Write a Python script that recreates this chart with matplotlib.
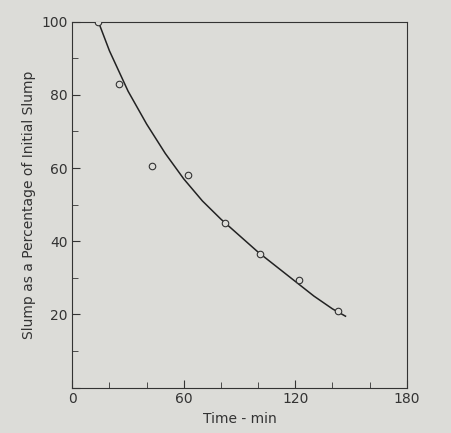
import matplotlib
matplotlib.use("Agg")
import matplotlib.pyplot as plt
import numpy as np

# measured points (time in min, slump as % of initial)
time_pts = [14, 25, 43, 62, 82, 101, 122, 143]
slump_pts = [100, 83, 60.5, 58, 45, 36.5, 29.5, 21]

# fitted curve
curve_t = [14, 20, 30, 40, 50, 60, 70, 80, 90, 100, 110, 120, 130, 140, 147]
curve_s = [100, 92, 81, 72, 64, 57, 51, 46, 41.5, 37, 33, 29, 25, 21.5, 19.5]

fig, ax = plt.subplots(figsize=(4.52, 4.33), dpi=100)
fig.patch.set_facecolor("#dcdcd8")
ax.set_facecolor("#dcdcd8")

ax.plot(curve_t, curve_s, color="#222222", linewidth=1.1)
ax.scatter(time_pts, slump_pts, s=22, facecolor="#dcdcd8", edgecolor="#333333",
           linewidth=0.8, zorder=3)

ax.set_xlim(0, 180)
ax.set_ylim(0, 100)
ax.set_xticks([0, 60, 120, 180])
ax.set_xticks(np.arange(0, 181, 20), minor=True)
ax.set_yticks([0, 20, 40, 60, 80, 100])
ax.set_yticklabels(["", "20", "40", "60", "80", "100"])
ax.set_yticks(np.arange(0, 101, 10), minor=True)
ax.tick_params(direction="in", which="both", colors="#333333", labelsize=10)
ax.tick_params(which="major", length=6)
ax.tick_params(which="minor", length=4)
ax.set_xlabel("Time - min", fontsize=10, color="#333333")
ax.set_ylabel("Slump as a Percentage of Initial Slump", fontsize=10, color="#333333")
for s in ax.spines.values():
    s.set_color("#333333")

fig.subplots_adjust(left=0.16, right=0.9, top=0.95, bottom=0.105)
fig.savefig("out.png", dpi=100)
plt.close(fig)
